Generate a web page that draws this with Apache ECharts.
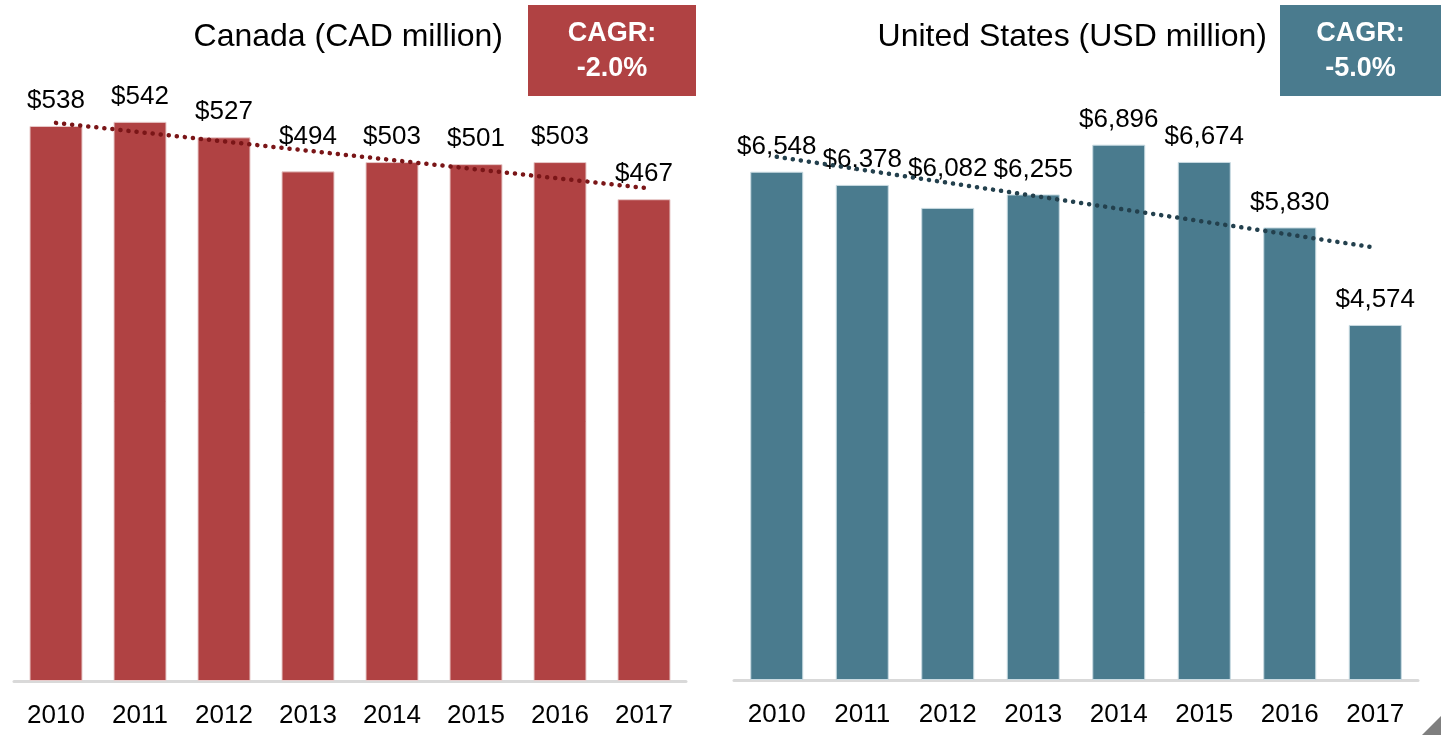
<!DOCTYPE html>
<html>
<head>
<meta charset="utf-8">
<script src="https://cdn.jsdelivr.net/npm/echarts@6/dist/echarts.min.js"></script>
<style>
  html, body { margin: 0; padding: 0; background: #fff; }
  #chart { width: 1441px; height: 735px; }
</style>
</head>
<body>
<div id="chart"></div>
<script>
// data
var years = ['2010', '2011', '2012', '2013', '2014', '2015', '2016', '2017']
var canada = [538, 542, 527, 494, 503, 501, 503, 467]
var usa = [6548, 6378, 6082, 6255, 6896, 6674, 5830, 4574]
// dotted trend lines, start (2010) and end (2017) values
var canadaTrend = [541, 478]
var usaTrend = [6740, 5570]
var canadaCagr = '-2.0%'
var usaCagr = '-5.0%'

var RED = '#b04243'
var TEAL = '#4a7b8e'
var FONT = 'Liberation Sans, Arial, sans-serif'

// some labels were nudged up in the original
var caLift = { 3: 10 }
var usLift = { 2: 14 }

function money(v) {
  return '$' + v.toString().replace(/\B(?=(\d{3})+(?!\d))/g, ',')
}

function barData(values, lift) {
  return values.map(function (v, i) {
    var item = { value: v }
    if (lift[i]) item.label = { distance: 12 + lift[i] }
    return item
  })
}

function trendData(t) {
  return [[0, t[0]], [years.length - 1, t[1]]]
}

var chart = echarts.init(document.getElementById('chart'))

var xAxisBase = {
  type: 'category',
  data: years,
  axisLine: { lineStyle: { color: '#d9d9d9', width: 3 } },
  axisTick: { show: false },
  axisLabel: { color: '#000', fontSize: 26, fontFamily: FONT, margin: 22 }
}
var yAxisBase = {
  type: 'value',
  min: 0,
  show: false,
  splitLine: { show: false }
}
var labelBase = {
  show: true,
  position: 'top',
  distance: 12,
  color: '#000',
  fontSize: 26,
  fontFamily: FONT,
  formatter: function (p) { return money(p.value) }
}

function cagrBox(x, w, color, value) {
  return {
    type: 'group',
    left: x,
    top: 5,
    children: [
      { type: 'rect', shape: { x: 0, y: 0, width: w, height: 91 }, style: { fill: color } },
      { type: 'text', style: { x: w / 2, y: 29, text: 'CAGR:', fill: '#fff', font: 'bold 27px ' + FONT, textAlign: 'center', textVerticalAlign: 'middle' } },
      { type: 'text', style: { x: w / 2, y: 64, text: value, fill: '#fff', font: 'bold 27px ' + FONT, textAlign: 'center', textVerticalAlign: 'middle' } }
    ]
  }
}

chart.setOption({
  animation: false,
  grid: [
    { left: 14, width: 672, top: 62, height: 619 },
    { left: 734, width: 684, top: 59, height: 621 }
  ],
  xAxis: [
    Object.assign({ gridIndex: 0 }, xAxisBase),
    Object.assign({ gridIndex: 1 }, xAxisBase)
  ],
  yAxis: [
    Object.assign({ gridIndex: 0, max: 600 }, yAxisBase),
    Object.assign({ gridIndex: 1, max: 8000 }, yAxisBase)
  ],
  graphic: [
    { type: 'text', right: 938, top: 21, style: { text: 'Canada (CAD million)', fill: '#000', font: '32px ' + FONT } },
    { type: 'text', right: 174, top: 21, style: { text: 'United States (USD million)', fill: '#000', font: '32px ' + FONT } },
    cagrBox(528, 168, RED, canadaCagr),
    cagrBox(1280, 161, TEAL, usaCagr),
    { type: 'polygon', shape: { points: [[1422, 735], [1441, 735], [1441, 716]] }, style: { fill: '#7f7f7f' } }
  ],
  series: [
    {
      type: 'bar', xAxisIndex: 0, yAxisIndex: 0, barWidth: 53,
      data: barData(canada, caLift),
      itemStyle: { color: RED, borderColor: '#e8caca', borderWidth: 1 },
      label: labelBase
    },
    {
      type: 'bar', xAxisIndex: 1, yAxisIndex: 1, barWidth: 53,
      data: barData(usa, usLift),
      itemStyle: { color: TEAL, borderColor: '#c9dbe2', borderWidth: 1 },
      label: labelBase
    },
    {
      type: 'line', xAxisIndex: 0, yAxisIndex: 0, symbol: 'none', z: 5,
      data: trendData(canadaTrend),
      lineStyle: { color: '#7a1517', width: 4.5, type: [0.1, 8], cap: 'round' }
    },
    {
      type: 'line', xAxisIndex: 1, yAxisIndex: 1, symbol: 'none', z: 5,
      data: trendData(usaTrend),
      lineStyle: { color: '#23404d', width: 4.5, type: [0.1, 8], cap: 'round' }
    }
  ]
})
</script>
</body>
</html>
